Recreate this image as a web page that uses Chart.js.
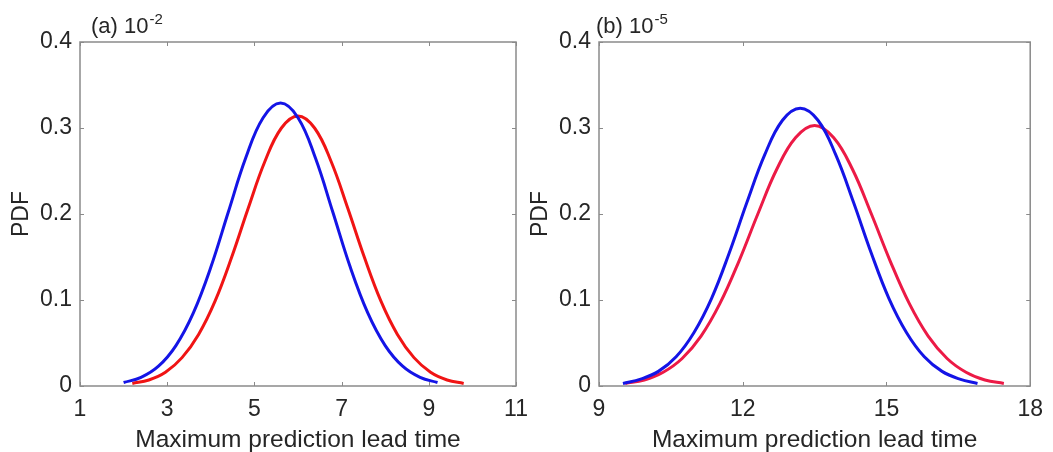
<!DOCTYPE html>
<html>
<head>
<meta charset="utf-8">
<script src="https://cdn.jsdelivr.net/npm/chart.js@4.4.1/dist/chart.umd.min.js"></script>
<style>
  html, body { margin: 0; padding: 0; background: #fff; }
  body { width: 1053px; height: 452px; position: relative; overflow: hidden; }
  canvas { position: absolute; top: 0; }
  #chartA { left: 0; }
  #chartB { left: 519px; }
</style>
</head>
<body>
<canvas id="chartA" width="545" height="452" style="width:545px;height:452px"></canvas>
<canvas id="chartB" width="534" height="452" style="width:534px;height:452px"></canvas>
<script>
// (a) 10^-2 : blue and red PDF curves
const aBlueX = [2.0, 2.4, 2.8, 3.2, 3.6, 4.0, 4.4, 4.8, 5.2, 5.6, 6.0, 6.4, 6.8, 7.2, 7.6, 8.0, 8.4, 8.8, 9.2];
const aBlueY = [0.004, 0.010, 0.023, 0.047, 0.085, 0.138, 0.202, 0.265, 0.312, 0.329, 0.312, 0.265, 0.202, 0.138, 0.085, 0.047, 0.023, 0.010, 0.004];
const aRedX = [2.2, 2.58, 2.96, 3.34, 3.72, 4.1, 4.48, 4.86, 5.24, 5.62, 6.0, 6.38, 6.76, 7.14, 7.52, 7.9, 8.28, 8.66, 9.04, 9.42, 9.8];
const aRedY = [0.003, 0.007, 0.016, 0.033, 0.060, 0.099, 0.150, 0.207, 0.261, 0.300, 0.314, 0.300, 0.261, 0.207, 0.150, 0.099, 0.060, 0.033, 0.016, 0.007, 0.003];

// (b) 10^-5
const bBlueX = [9.5, 9.87, 10.24, 10.61, 10.98, 11.35, 11.72, 12.09, 12.46, 12.83, 13.2, 13.57, 13.94, 14.31, 14.68, 15.05, 15.42, 15.79, 16.16, 16.53, 16.9];
const bBlueY = [0.003, 0.008, 0.017, 0.034, 0.062, 0.102, 0.155, 0.214, 0.269, 0.309, 0.323, 0.309, 0.269, 0.214, 0.155, 0.102, 0.062, 0.034, 0.017, 0.008, 0.003];
const bRedX = [9.55, 9.945, 10.34, 10.735, 11.13, 11.525, 11.92, 12.315, 12.71, 13.105, 13.5, 13.895, 14.29, 14.685, 15.08, 15.475, 15.87, 16.265, 16.66, 17.055, 17.45];
const bRedY = [0.003, 0.007, 0.016, 0.032, 0.058, 0.096, 0.145, 0.200, 0.252, 0.289, 0.303, 0.289, 0.252, 0.200, 0.145, 0.096, 0.058, 0.032, 0.016, 0.007, 0.003];

// axis ranges / tick steps
const aXRange = [1, 11], aXStep = 2;
const bXRange = [9, 18], bXStep = 3;
const yRange = [0, 0.4], yStep = 0.1;

const FONT = "'Liberation Sans', Arial, sans-serif";
const TEXT = '#262626';
const AXIS = '#8a8a8a';

function toPoints(xs, ys) {
    return xs.map((x, i) => ({ x: x, y: ys[i] }));
}

// box around the plot area with inward tick marks, plus the panel label
const boxPlugin = {
    id: 'box',
    beforeDatasetsDraw(chart) {
        const ctx = chart.ctx;
        const a = chart.chartArea;
        const xs = chart.scales.x, ys = chart.scales.y;
        ctx.save();
        ctx.strokeStyle = AXIS;
        ctx.lineWidth = 1.5;
        ctx.strokeRect(a.left, a.top, a.right - a.left, a.bottom - a.top);
        ctx.beginPath();
        xs.ticks.forEach(t => {
            const px = Math.round(xs.getPixelForValue(t.value)) + 0.5;
            ctx.moveTo(px, a.bottom); ctx.lineTo(px, a.bottom - 4);
            ctx.moveTo(px, a.top); ctx.lineTo(px, a.top + 4);
        });
        ys.ticks.forEach(t => {
            const py = Math.round(ys.getPixelForValue(t.value)) + 0.5;
            ctx.moveTo(a.left, py); ctx.lineTo(a.left + 4, py);
            ctx.moveTo(a.right, py); ctx.lineTo(a.right - 4, py);
        });
        ctx.lineWidth = 1;
        ctx.stroke();
        ctx.restore();
    },
    afterDraw(chart) {
        const p = chart.options.plugins.box;
        const ctx = chart.ctx;
        ctx.save();
        ctx.fillStyle = TEXT;
        ctx.textBaseline = 'alphabetic';
        ctx.textAlign = 'left';
        ctx.font = '22px ' + FONT;
        ctx.fillText(p.label, p.x, 33);
        const w = ctx.measureText(p.label).width;
        ctx.font = '15px ' + FONT;
        ctx.fillText(p.exp, p.x + w + 1, 24);
        ctx.restore();
    }
};

function makePanel(id, series, xRange, xStep, panel) {
    const ctx = document.getElementById(id);
    return new Chart(ctx, {
        type: 'line',
        data: {
            datasets: series.map(s => ({
                data: toPoints(s.x, s.y),
                borderColor: s.color,
                borderWidth: 3,
                pointRadius: 0,
                fill: false,
                tension: 0.4
            }))
        },
        options: {
            responsive: false,
            animation: false,
            layout: { padding: { top: 42, right: panel.padRight, bottom: 0, left: 0 } },
            scales: {
                x: {
                    type: 'linear',
                    min: xRange[0],
                    max: xRange[1],
                    ticks: { stepSize: xStep, color: TEXT, font: { family: FONT, size: 23 }, padding: 10, maxRotation: 0, autoSkip: false },
                    grid: { display: false, drawTicks: false },
                    border: { display: false },
                    title: { display: true, text: 'Maximum prediction lead time', color: TEXT, font: { family: FONT, size: 24.5 }, padding: { top: 0, bottom: -3 } },
                    afterFit(scale) { scale.height = 66; }
                },
                y: {
                    type: 'linear',
                    min: yRange[0],
                    max: yRange[1],
                    ticks: { stepSize: yStep, color: TEXT, font: { family: FONT, size: 23 }, padding: 8 },
                    grid: { display: false, drawTicks: false },
                    border: { display: false },
                    title: { display: true, text: 'PDF', color: TEXT, font: { family: FONT, size: 23 }, padding: { top: 8, bottom: 0 } },
                    afterFit(scale) { scale.width = 80; }
                }
            },
            plugins: {
                legend: { display: false },
                tooltip: { enabled: false },
                box: { label: panel.label, exp: panel.exp, x: panel.labelX }
            }
        },
        plugins: [boxPlugin]
    });
}

makePanel('chartA', [
    { x: aBlueX, y: aBlueY, color: '#1414e6' },
    { x: aRedX, y: aRedY, color: '#f01414' }
], aXRange, aXStep, { label: '(a) 10', exp: '-2', labelX: 91, padRight: 29 });

makePanel('chartB', [
    { x: bBlueX, y: bBlueY, color: '#1414e6' },
    { x: bRedX, y: bRedY, color: '#ec1a46' }
], bXRange, bXStep, { label: '(b) 10', exp: '-5', labelX: 77, padRight: 18 });
</script>
</body>
</html>
